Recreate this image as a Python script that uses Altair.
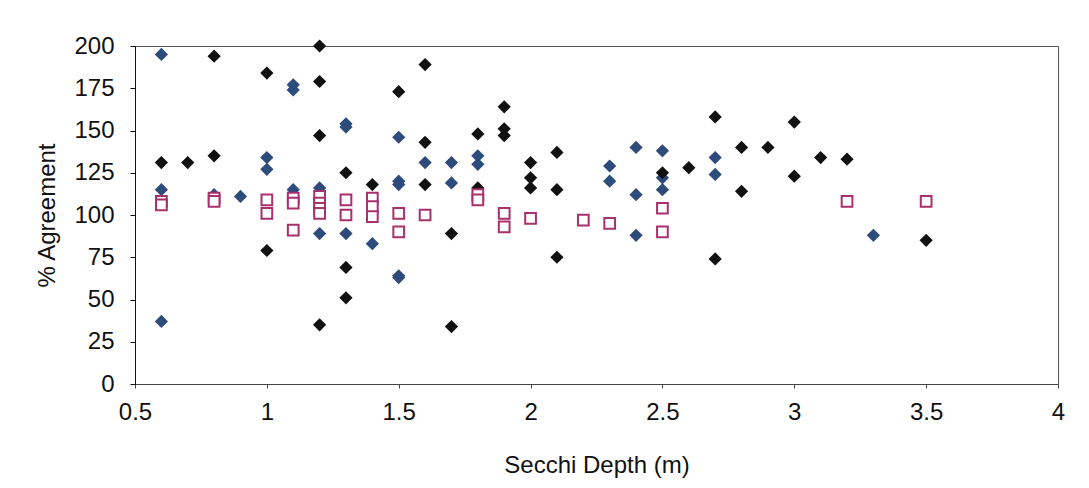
import altair as alt
import pandas as pd

# Series A (black filled diamonds)
a_x = [0.6, 0.7, 0.8, 0.8, 1.0, 1.0, 1.2, 1.2, 1.2, 1.2, 1.3, 1.3, 1.3, 1.4, 1.5, 1.6, 1.6, 1.6,
       1.7, 1.7, 1.8, 1.8, 1.9, 1.9, 1.9, 2.0, 2.0, 2.0, 2.1, 2.1, 2.1, 2.5, 2.6, 2.7, 2.7, 2.8,
       2.8, 2.9, 3.0, 3.0, 3.1, 3.2, 3.5]
a_y = [131, 131, 194, 135, 184, 79, 200, 179, 147, 35, 125, 69, 51, 118, 173, 189, 143, 118,
       89, 34, 148, 116, 164, 151, 147, 131, 122, 116, 137, 115, 75, 125, 128, 158, 74, 140,
       114, 140, 155, 123, 134, 133, 85]

# Series B (blue filled diamonds)
b_x = [0.6, 0.6, 0.6, 0.8, 0.9, 1.0, 1.0, 1.1, 1.1, 1.1, 1.2, 1.2, 1.3, 1.3, 1.3, 1.4, 1.5, 1.5,
       1.5, 1.5, 1.5, 1.6, 1.7, 1.7, 1.8, 1.8, 2.3, 2.3, 2.4, 2.4, 2.4, 2.5, 2.5, 2.5, 2.7, 2.7, 3.3]
b_y = [195, 115, 37, 112, 111, 134, 127, 177, 174, 115, 116, 89, 154, 152, 89, 83, 146, 120,
       118, 64, 63, 131, 131, 119, 135, 130, 129, 120, 140, 112, 88, 138, 122, 115, 134, 124, 88]

# Series C (pink open squares)
c_x = [0.6, 0.6, 0.8, 0.8, 1.0, 1.0, 1.1, 1.1, 1.1, 1.2, 1.2, 1.2, 1.2, 1.3, 1.3, 1.4, 1.4, 1.4,
       1.5, 1.5, 1.6, 1.8, 1.8, 1.9, 1.9, 2.0, 2.2, 2.3, 2.5, 2.5, 3.2, 3.5]
c_y = [108, 106, 110, 108, 109, 101, 110, 107, 91, 111, 107, 104, 101, 109, 100, 110, 105, 99,
       101, 90, 100, 112, 109, 101, 93, 98, 97, 95, 104, 90, 108, 108]

x_ticks = [0.5, 1, 1.5, 2, 2.5, 3, 3.5, 4]
y_ticks = [0, 25, 50, 75, 100, 125, 150, 175, 200]

dfa = pd.DataFrame({"x": a_x, "y": a_y})
dfb = pd.DataFrame({"x": b_x, "y": b_y})
dfc = pd.DataFrame({"x": c_x, "y": c_y})

FONT = "Liberation Sans"
FS = 24

xenc = alt.X("x:Q", scale=alt.Scale(domain=[0.5, 4], nice=False, zero=False),
             axis=alt.Axis(values=x_ticks, title="Secchi Depth (m)", labelExpr="'' + datum.value",
                           grid=False, domainColor="#444", tickColor="#444", tickSize=4,
                           labelPadding=12, titlePadding=29, labelFontSize=FS, titleFontSize=FS,
                           labelColor="#111", titleColor="#111", labelFont=FONT, titleFont=FONT,
                           titleFontWeight="normal", labelFlush=False))
yenc = alt.Y("y:Q", scale=alt.Scale(domain=[0, 200], nice=False),
             axis=alt.Axis(values=y_ticks, title="% Agreement", grid=False,
                           domainColor="#111", tickColor="#111", tickSize=5,
                           labelPadding=16, titlePadding=14, labelFontSize=FS, titleFontSize=FS,
                           labelColor="#111", titleColor="#111", labelFont=FONT, titleFont=FONT,
                           titleFontWeight="normal", labelFlush=False))

blue = alt.Chart(dfb).mark_point(shape="diamond", filled=True, size=175, color="#2D4C7C",
                                 opacity=1).encode(x=xenc, y=yenc)
black = alt.Chart(dfa).mark_point(shape="diamond", filled=True, size=175, color="#111111",
                                  opacity=1).encode(x=xenc, y=yenc)
pink = alt.Chart(dfc).mark_point(shape="square", filled=False, size=115, stroke="#A8306C",
                                 strokeWidth=2, fill="white", fillOpacity=1,
                                 opacity=1).encode(x=xenc, y=yenc)

chart = alt.layer(blue, black, pink).properties(
    width=923, height=338,
    autosize=alt.AutoSizeParams(type="none"),
    padding={"left": 135, "top": 46, "right": 31, "bottom": 104},
    background="white",
).configure_view(stroke="#555", strokeWidth=1)

chart.save("out.html", embed_options={"renderer": "svg", "actions": False})
